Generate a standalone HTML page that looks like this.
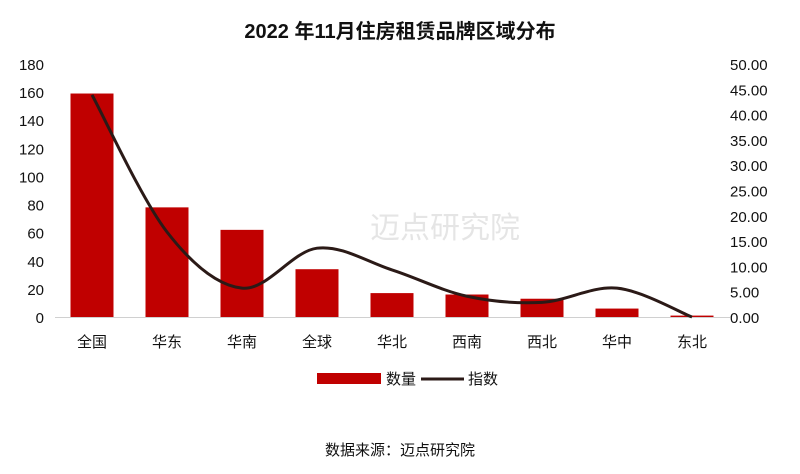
<!DOCTYPE html>
<html><head><meta charset="utf-8"><style>
body{margin:0;background:#fff;}
text{font-family:"Liberation Sans","Noto Sans CJK SC",sans-serif;}
</style></head><body>
<svg id="c" width="800" height="469" xmlns="http://www.w3.org/2000/svg">
<text x="400" y="38" text-anchor="middle" font-size="20" font-weight="bold" fill="#111">2022 年11月住房租赁品牌区域分布</text>
<g opacity="0.25">
<text x="370" y="238" font-size="30" fill="#999">迈点研究院</text>
</g>
<g id="plot"></g>
<g>
<rect x="317" y="373" width="64" height="11" fill="#c00000"/>
<text x="386" y="384" font-size="15" fill="#111">数量</text>
<line x1="421" y1="379" x2="464" y2="379" stroke="#2b1a17" stroke-width="3"/>
<text x="468" y="384" font-size="15" fill="#111">指数</text>
</g>
<text x="400" y="455" text-anchor="middle" font-size="15" fill="#111">数据来源：迈点研究院</text>
</svg>
<script>
const categories=["全国","华东","华南","全球","华北","西南","西北","华中","东北"];
const counts=[159,78,62,34,17,16,13,6,1];
const indexValues=[43.9,16.8,5.7,13.6,9.3,4.1,2.9,5.7,0];
const leftTicks=[0,20,40,60,80,100,120,140,160,180];
const rightTicks=[0,5,10,15,20,25,30,35,40,45,50];
const NS="http://www.w3.org/2000/svg";
const g=document.getElementById('plot');
const x0=55,step=75,base=317,yTop=64;
const xC=i=>x0+step*(i+0.5)-0.5;
const yL=v=>base-(v/180)*(base-yTop);
const yR=v=>base-(v/50)*(base-yTop);
function mk(t,a){const e=document.createElementNS(NS,t);for(const k in a)e.setAttribute(k,a[k]);g.appendChild(e);return e;}
leftTicks.forEach(v=>{const t=mk('text',{x:44,y:yL(v)+6,'text-anchor':'end','font-size':15,fill:'#111'});t.textContent=v;

});
rightTicks.forEach(v=>{const t=mk('text',{x:730,y:yR(v)+6,'font-size':15,fill:'#111'});t.textContent=v.toFixed(2);

});
categories.forEach((c,i)=>{const r=mk('rect',{x:xC(i)-21.5,y:yL(counts[i]),width:43,height:base-yL(counts[i]),fill:'#c00000'});


const t=mk('text',{x:xC(i),y:347,'text-anchor':'middle','font-size':15,fill:'#111'});t.textContent=c;

});
const ax=mk('line',{x1:55,y1:base+0.5,x2:730,y2:base+0.5,stroke:'#d0d0d0','stroke-width':1});


const pts=indexValues.map((v,i)=>[xC(i),yR(v)]);
let d='M'+pts[0][0]+','+pts[0][1];
for(let i=0;i<pts.length-1;i++){const p0=pts[Math.max(0,i-1)],p1=pts[i],p2=pts[i+1],p3=pts[Math.min(pts.length-1,i+2)];
const c1=[p1[0]+(p2[0]-p0[0])/6,p1[1]+(p2[1]-p0[1])/6],c2=[p2[0]-(p3[0]-p1[0])/6,p2[1]-(p3[1]-p1[1])/6];
d+=' C'+c1+' '+c2+' '+p2;}
const ln=mk('path',{d:d,fill:'none',stroke:'#2b1a17','stroke-width':3});


</script>
</body></html>
